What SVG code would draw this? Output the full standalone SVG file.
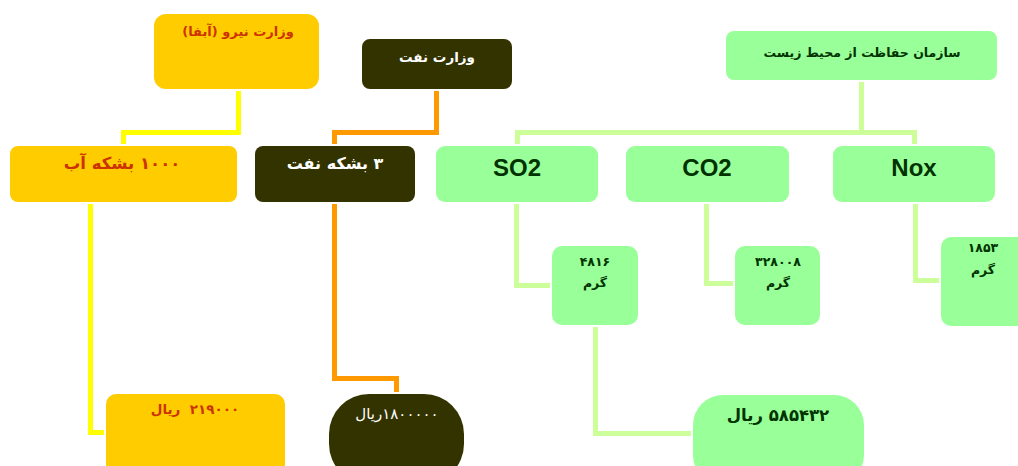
<svg xmlns="http://www.w3.org/2000/svg" width="1018" height="466" viewBox="0 0 1018 466">
<style>
.fa{font-family:"DejaVu Sans",sans-serif;font-weight:bold;text-anchor:middle;direction:rtl}
.en{font-family:"Liberation Sans",Arial,sans-serif;font-weight:bold;text-anchor:middle;fill:#003300}
.y{fill:#ffcc00}
.d{fill:#333300}
.g{fill:#99ff99}
.red{fill:#cc3300}
.wh{fill:#ffffff}
.dk{fill:#003300}
.c{fill:none;stroke-width:5}
</style>
<rect width="1018" height="466" fill="#ffffff"/>
<g id="connectors">
<path class="c" stroke="#ffff00" d="M238.5,91 V132.5 H123.5 V144"/>
<path class="c" stroke="#ffff00" d="M90.5,204 V432.5 H104"/>
<path class="c" stroke="#ff9900" d="M436.5,91 V132.5 H334.5 V144"/>
<path class="c" stroke="#ff9900" d="M334.5,204 V378.5 H396.5 V392"/>
<path class="c" stroke="#ccff99" d="M861.5,82 V132.5"/>
<path class="c" stroke="#ccff99" d="M517.5,144 V132.5 H914.5 V144"/>
<path class="c" stroke="#ccff99" d="M516.5,204 V285.5 H550"/>
<path class="c" stroke="#ccff99" d="M706.5,204 V283.5 H733"/>
<path class="c" stroke="#ccff99" d="M915.5,204 V280.5 H939"/>
<path class="c" stroke="#ccff99" d="M595.5,327 V433.5 H691"/>
</g>
<g id="abfa"><rect class="y" x="154" y="14" width="165" height="75" rx="12"/><text class="fa red" x="238" y="36" font-size="13">وزارت نیرو (آبفا)</text></g>
<g id="naft-ministry"><rect class="d" x="362" y="39" width="150" height="50" rx="8"/><text class="fa wh" x="437" y="62" font-size="13.5">وزارت نفت</text></g>
<g id="environment"><rect class="g" x="726" y="31" width="271" height="49" rx="8"/><text class="fa dk" x="862" y="57" font-size="12.5">سازمان حفاظت از محیط زیست</text></g>
<g id="water-barrels"><rect class="y" x="10" y="146" width="227" height="56" rx="8"/><text class="fa red" x="122" y="169" font-size="16.5">۱۰۰۰ بشکه آب</text></g>
<g id="oil-barrels"><rect class="d" x="255" y="146" width="160" height="56" rx="8"/><text class="fa wh" x="335" y="169" font-size="16">۳ بشکه نفت</text></g>
<g id="so2"><rect class="g" x="436" y="146" width="162" height="56" rx="9"/><text class="en" x="517" y="176" font-size="24">SO2</text></g>
<g id="co2"><rect class="g" x="626" y="146" width="163" height="56" rx="9"/><text class="en" x="707" y="176" font-size="24">CO2</text></g>
<g id="nox"><rect class="g" x="833" y="146" width="162" height="56" rx="9"/><text class="en" x="914" y="176" font-size="24">Nox</text></g>
<g id="so2-grams"><rect class="g" x="552" y="246" width="86" height="79" rx="10"/><text class="fa dk" x="595" y="266" font-size="12.5">۴۸۱۶</text><text class="fa dk" x="595" y="287" font-size="12.5">گرم</text></g>
<g id="co2-grams"><rect class="g" x="735" y="246" width="85" height="79" rx="10"/><text class="fa dk" x="778" y="266" font-size="12.5">۳۲۸۰۰۸</text><text class="fa dk" x="778" y="287" font-size="12.5">گرم</text></g>
<g id="nox-grams"><rect class="g" x="941" y="237" width="90" height="89" rx="10"/><text class="fa dk" x="983" y="252" font-size="12.5">۱۸۵۳</text><text class="fa dk" x="983" y="274" font-size="12.5">گرم</text></g>
<g id="water-cost"><rect class="y" x="106" y="394" width="179" height="80" rx="10"/><text class="fa red" x="195" y="414" font-size="13.5" xml:space="preserve">۲۱۹۰۰۰  ریال</text></g>
<g id="oil-cost"><rect class="d" x="329" y="394" width="135" height="90" rx="40"/><text x="397" y="419" font-size="15" fill="#ffffff" text-anchor="middle" direction="rtl" font-family="DejaVu Sans,sans-serif">۱۸۰۰۰۰۰ریال</text></g>
<g id="emission-cost"><rect class="g" x="693" y="395" width="171" height="90" rx="30"/><text class="fa dk" x="778" y="421" font-size="16.5">۵۸۵۴۳۲ ریال</text></g>
</svg>
